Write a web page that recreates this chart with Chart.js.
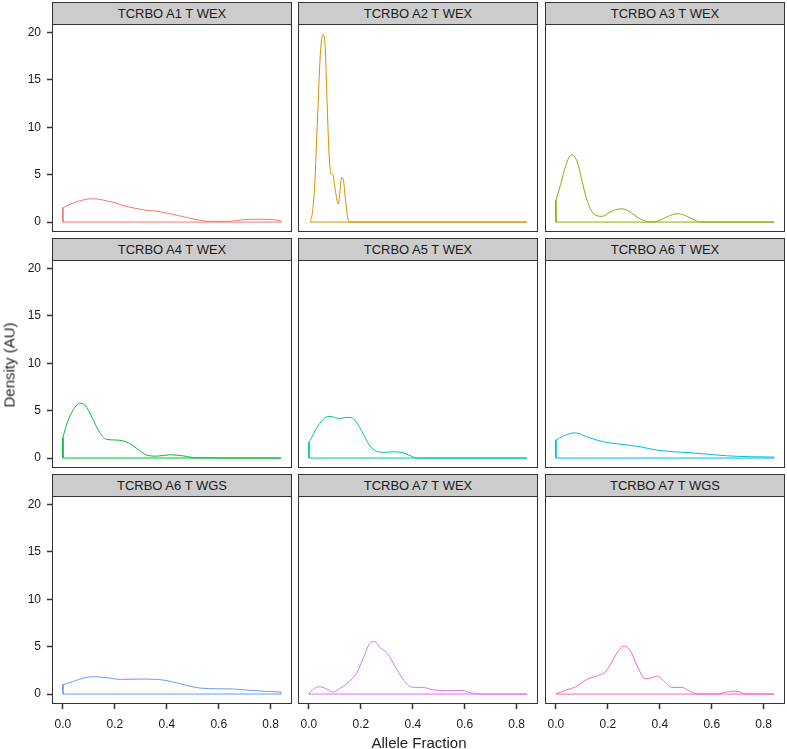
<!DOCTYPE html>
<html>
<head>
<meta charset="utf-8">
<script src="https://cdn.jsdelivr.net/npm/chart.js@4.4.1/dist/chart.umd.min.js"></script>
<style>
  body { margin: 0; background: #fff; font-family: "Liberation Sans", Arial, sans-serif; }
  #wrap { position: relative; width: 787px; height: 749px; overflow: hidden; }
  .strip { position: absolute; box-sizing: border-box; border: 1px solid #333; background: #cccccc;
           font-size: 13px; color: #1a1a1a; text-align: center; line-height: 21px; white-space: nowrap; }
  canvas { position: absolute; }
  .title { position: absolute; font-size: 15px; color: #222; white-space: nowrap; }
</style>
</head>
<body>
<div id="wrap"></div>
<script>
// facet labels, in grid order
const panelLabels = ['TCRBO A1 T WEX', 'TCRBO A2 T WEX', 'TCRBO A3 T WEX',
                     'TCRBO A4 T WEX', 'TCRBO A5 T WEX', 'TCRBO A6 T WEX',
                     'TCRBO A6 T WGS', 'TCRBO A7 T WEX', 'TCRBO A7 T WGS'];
const xTicks = [0, 0.2, 0.4, 0.6, 0.8];
const yTicks = [0, 5, 10, 15, 20];

// density curves (allele fraction, density)
const a1X = [0, 0.03, 0.06, 0.08, 0.11, 0.14, 0.17, 0.2, 0.23, 0.27, 0.32, 0.36, 0.41, 0.45, 0.48, 0.53, 0.56, 0.6, 0.65, 0.67, 0.7, 0.75, 0.8, 0.82, 0.84];
const a1Y = [1.5, 1.9, 2.2, 2.35, 2.46, 2.4, 2.22, 2.05, 1.75, 1.5, 1.25, 1.15, 0.88, 0.65, 0.46, 0.18, 0.08, 0.07, 0.09, 0.15, 0.27, 0.29, 0.28, 0.22, 0.1];

const a2X = [0.005, 0.013, 0.022, 0.028, 0.036, 0.044, 0.054, 0.062, 0.069, 0.077, 0.085, 0.092, 0.1, 0.108, 0.113, 0.118, 0.126, 0.133, 0.141, 0.149, 0.156, 0.84];
const a2Y = [0, 0.9, 3.7, 7.5, 12.8, 17.7, 19.8, 18.8, 13.5, 7.5, 5.1, 5.0, 3.7, 2.3, 1.9, 2.8, 4.7, 4.4, 2.3, 0.5, 0, 0];

const a3X = [0, 0.017, 0.036, 0.05, 0.062, 0.075, 0.09, 0.1, 0.12, 0.145, 0.177, 0.209, 0.23, 0.254, 0.27, 0.286, 0.324, 0.363, 0.388, 0.427, 0.45, 0.472, 0.504, 0.536, 0.56, 0.84];
const a3Y = [2.28, 3.86, 5.8, 6.8, 7.1, 6.8, 5.6, 4.4, 2.3, 0.88, 0.6, 1.05, 1.3, 1.4, 1.3, 1.05, 0.35, 0, 0.07, 0.53, 0.8, 0.88, 0.6, 0.18, 0, 0];

const a4X = [0, 0.015, 0.035, 0.05, 0.064, 0.086, 0.112, 0.137, 0.169, 0.208, 0.253, 0.285, 0.323, 0.362, 0.413, 0.47, 0.509, 0.84];
const a4Y = [2.17, 3.6, 4.86, 5.5, 5.8, 5.56, 4.3, 2.9, 1.96, 1.9, 1.6, 1.0, 0.31, 0.2, 0.35, 0.2, 0.03, 0];

const a5X = [0, 0.009, 0.028, 0.054, 0.077, 0.099, 0.118, 0.137, 0.163, 0.182, 0.208, 0.233, 0.259, 0.291, 0.329, 0.362, 0.394, 0.419, 0.84];
const a5Y = [1.68, 2.06, 3.1, 4.05, 4.4, 4.3, 4.16, 4.27, 4.27, 3.8, 2.6, 1.36, 0.73, 0.6, 0.66, 0.56, 0.2, 0, 0];

const a6wexX = [0, 0.029, 0.074, 0.119, 0.183, 0.247, 0.324, 0.388, 0.453, 0.517, 0.58, 0.658, 0.747, 0.84];
const a6wexY = [1.89, 2.34, 2.66, 2.24, 1.71, 1.47, 1.19, 0.84, 0.66, 0.56, 0.42, 0.24, 0.14, 0.1];

const a6wgsX = [0, 0.041, 0.079, 0.118, 0.169, 0.221, 0.297, 0.362, 0.413, 0.477, 0.528, 0.592, 0.656, 0.72, 0.785, 0.84];
const a6wgsY = [0.98, 1.34, 1.69, 1.83, 1.72, 1.55, 1.58, 1.55, 1.34, 0.91, 0.63, 0.56, 0.53, 0.39, 0.28, 0.21];

const a7wexX = [0, 0.015, 0.041, 0.067, 0.092, 0.118, 0.15, 0.182, 0.208, 0.233, 0.253, 0.272, 0.303, 0.33, 0.361, 0.394, 0.438, 0.477, 0.528, 0.592, 0.612, 0.637, 0.65, 0.84];
const a7wexY = [0.07, 0.49, 0.77, 0.56, 0.21, 0.56, 1.2, 2.14, 3.7, 5.3, 5.55, 4.96, 4.25, 3.0, 1.62, 0.74, 0.7, 0.46, 0.35, 0.39, 0.21, 0.07, 0, 0];

const a7wgsX = [0, 0.036, 0.074, 0.119, 0.164, 0.19, 0.215, 0.241, 0.263, 0.286, 0.312, 0.344, 0.369, 0.388, 0.414, 0.446, 0.485, 0.51, 0.542, 0.62, 0.658, 0.683, 0.709, 0.728, 0.84];
const a7wgsY = [0, 0.39, 0.74, 1.55, 1.97, 2.32, 3.37, 4.6, 5.06, 4.6, 3.02, 1.62, 1.72, 1.9, 1.44, 0.7, 0.7, 0.39, 0, 0, 0.21, 0.32, 0.21, 0, 0];

const panelX = [a1X, a2X, a3X, a4X, a5X, a6wexX, a6wgsX, a7wexX, a7wgsX];
const panelY = [a1Y, a2Y, a3Y, a4Y, a5Y, a6wexY, a6wgsY, a7wexY, a7wgsY];
const lineColors = ['#F8766D', '#D39200', '#93AA00', '#00BA38', '#00C19F', '#00B9E3', '#619CFF', '#DB72FB', '#FF61C3'];

// layout of the facet grid
const colLeft = [52, 298, 545];
const stripTop = [2, 238, 474];
const stripH = 22, panelW = 240, plotH = 208;

const wrap = document.getElementById('wrap');

// panel frame
const framePlugin = {
    id: 'frame',
    afterDraw(chart) {
        const { ctx, chartArea: a } = chart;
        ctx.save();
        ctx.strokeStyle = '#333';
        ctx.lineWidth = 1;
        ctx.strokeRect(Math.round(a.left) + 0.5, Math.round(a.top) + 0.5, Math.round(a.width) - 1, Math.round(a.height) - 1);
        ctx.restore();
    }
};

function axisStyle(show, gap) {
    return {
        grid: { display: show, drawOnChartArea: false, drawTicks: true, tickLength: 5, tickColor: '#333', tickWidth: 1.5 },
        border: { display: false },
        ticks: { display: show, padding: gap, color: '#1a1a1a', font: { family: 'Liberation Sans', size: 12 } }
    };
}

// keep every plot area the same size: no extra room for overhanging labels
function fixSize(s, prop, size) {
    s[prop] = size;
    s.paddingTop = 0; s.paddingBottom = 0; s.paddingLeft = 0; s.paddingRight = 0;
}

panelLabels.forEach((label, i) => {
    const r = Math.floor(i / 3), c = i % 3;
    const plotTop = stripTop[r] + stripH;

    const strip = document.createElement('div');
    strip.className = 'strip';
    strip.style.left = colLeft[c] + 'px';
    strip.style.top = stripTop[r] + 'px';
    strip.style.width = panelW + 'px';
    strip.style.height = (stripH + 1) + 'px';
    strip.textContent = label;
    wrap.appendChild(strip);

    const yw = c === 0 ? 52 : 2;
    const xh = r === 2 ? 40 : 2;
    const pad = 2;
    const cv = document.createElement('canvas');
    cv.width = yw + panelW + pad;
    cv.height = pad + plotH + xh;
    cv.style.left = (colLeft[c] - yw) + 'px';
    cv.style.top = (plotTop - pad) + 'px';
    wrap.appendChild(cv);

    const xs = panelX[i], ys = panelY[i];
    const pts = xs.map((x, k) => ({ x: x, y: ys[k] }));
    const first = pts[0], last = pts[pts.length - 1];
    const col = lineColors[i];

    const xAxis = axisStyle(r === 2, 8);
    const yAxis = axisStyle(c === 0, 6);

    new Chart(cv.getContext('2d'), {
        type: 'scatter',
        data: {
            datasets: [
                { data: pts, borderColor: col, borderWidth: 1, pointRadius: 0, showLine: true, cubicInterpolationMode: 'monotone' },
                // close the density outline along the baseline
                { data: [first, { x: first.x, y: 0 }, { x: last.x, y: 0 }, last], borderColor: col, borderWidth: 1, pointRadius: 0, showLine: true, tension: 0 }
            ]
        },
        options: {
            responsive: false,
            animation: false,
            events: [],
            layout: { padding: { top: pad, right: pad, left: 0, bottom: 0 } },
            plugins: { legend: { display: false }, tooltip: { enabled: false } },
            scales: {
                x: Object.assign({
                    type: 'linear', min: -0.042, max: 0.882,
                    afterBuildTicks: s => { s.ticks = xTicks.map(v => ({ value: v })); },
                    afterFit: s => fixSize(s, 'height', xh)
                }, xAxis, { ticks: Object.assign(xAxis.ticks, { callback: v => v.toFixed(1), maxRotation: 0 }) }),
                y: Object.assign({
                    type: 'linear', min: -1.05, max: 20.9,
                    afterBuildTicks: s => { s.ticks = yTicks.map(v => ({ value: v })); },
                    afterFit: s => fixSize(s, 'width', yw)
                }, yAxis, { ticks: Object.assign(yAxis.ticks, { callback: v => String(v) }) })
            }
        },
        plugins: [framePlugin]
    });
});

// axis titles
const yTitle = document.createElement('div');
yTitle.className = 'title';
yTitle.textContent = 'Density (AU)';
yTitle.style.left = '9px';
yTitle.style.top = '365px';
yTitle.style.transform = 'translate(-50%, -50%) rotate(-90deg)';
wrap.appendChild(yTitle);

const xTitle = document.createElement('div');
xTitle.className = 'title';
xTitle.textContent = 'Allele Fraction';
xTitle.style.left = '419px';
xTitle.style.top = '742px';
xTitle.style.transform = 'translate(-50%, -50%)';
wrap.appendChild(xTitle);
</script>
</body>
</html>
